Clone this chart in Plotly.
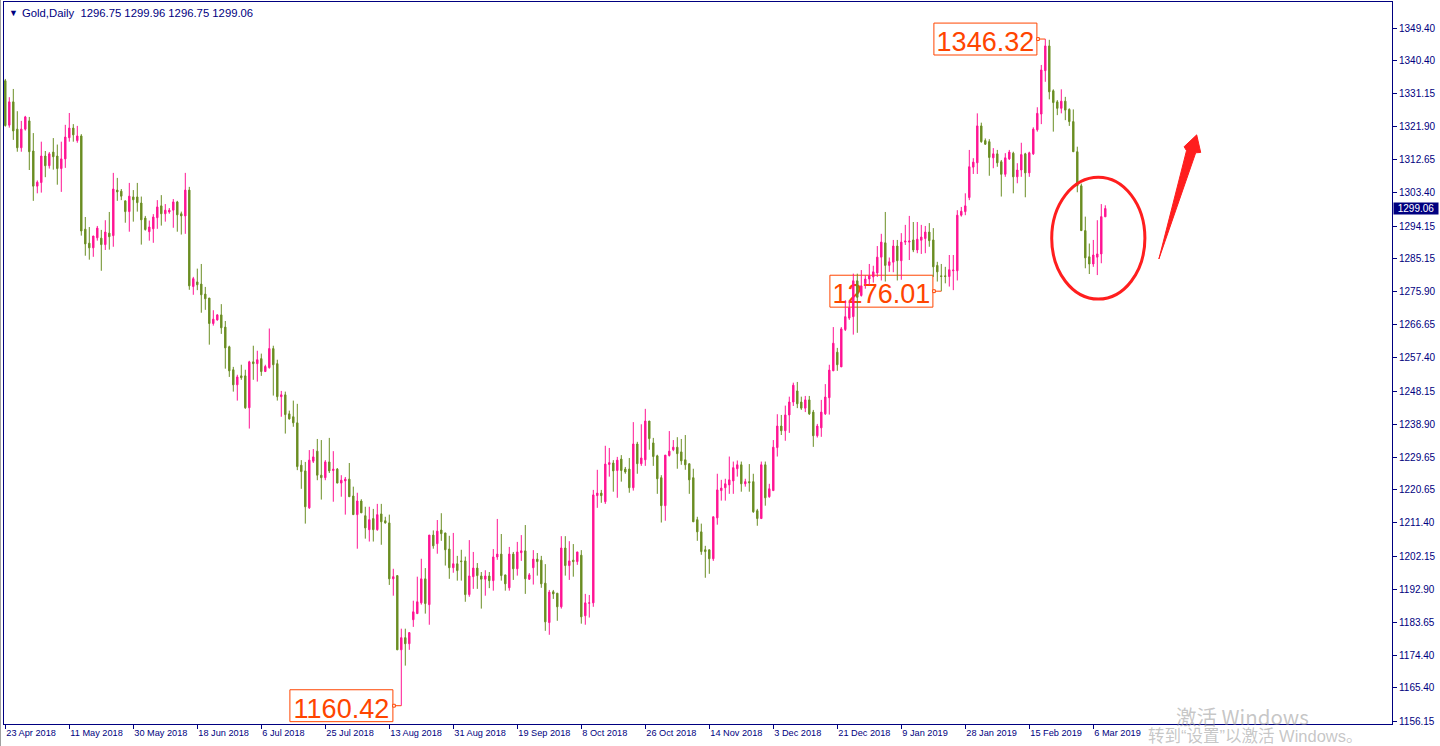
import plotly.graph_objects as go

# ---------------- data (Gold daily bars) ----------------
open_ = [
 1334.7,1322.3,1328.8,1321.2,1316.0,1321.2,1323.5,1315.1,1305.3,1306.3,
 1313.7,1311.0,1314.8,1313.7,1310.2,1312.9,1318.8,1321.5,1318.0,1319.3,
 1293.3,1289.4,1288.1,1290.9,1290.8,1289.0,1292.2,1291.5,1304.2,1303.9,
 1301.2,1298.2,1302.3,1302.3,1300.6,1296.4,1292.6,1293.4,1296.5,1299.8,
 1297.6,1298.1,1298.6,1300.9,1297.6,1297.0,1304.2,1277.3,1278.6,1278.0,
 1275.2,1274.1,1267.0,1268.0,1269.4,1266.0,1260.5,1254.1,1249.9,1252.4,
 1252.4,1243.5,1256.3,1255.8,1257.2,1253.6,1254.7,1260.0,1255.8,1246.6,
 1247.1,1241.8,1241.0,1239.3,1227.5,1225.9,1215.6,1228.6,1231.4,1224.7,
 1224.0,1228.4,1226.0,1226.4,1222.5,1223.1,1223.6,1218.9,1213.7,1217.5,
 1213.4,1209.5,1212.6,1209.5,1213.9,1212.0,1211.4,1195.8,1196.7,1176.0,
 1179.4,1177.7,1184.4,1186.1,1189.1,1195.8,1188.6,1208.0,1205.6,1209.4,
 1208.6,1204.1,1198.9,1200.0,1200.8,1200.8,1191.4,1196.4,1198.8,1196.6,
 1195.7,1196.6,1195.3,1201.9,1202.7,1196.9,1193.3,1202.7,1198.6,1203.1,
 1203.6,1195.7,1198.9,1201.3,1201.0,1194.6,1183.6,1192.2,1191.8,1188.0,
 1204.4,1199.5,1201.0,1200.6,1202.4,1185.5,1189.0,1189.1,1219.0,1219.7,
 1217.3,1227.7,1228.1,1226.0,1229.2,1226.4,1226.4,1221.2,1233.4,1227.9,
 1229.0,1239.8,1233.7,1230.1,1224.0,1216.2,1230.2,1231.8,1232.5,1231.2,
 1229.0,1227.9,1224.0,1212.3,1208.9,1203.9,1203.9,1201.4,1212.8,1220.4,
 1221.2,1222.0,1223.1,1226.5,1227.6,1222.3,1222.9,1222.9,1214.8,1212.6,
 1227.6,1218.7,1220.4,1232.4,1238.4,1237.1,1241.5,1245.1,1248.2,1245.1,
 1243.4,1245.7,1242.3,1235.7,1237.9,1241.8,1246.3,1253.8,1259.0,1254.9,
 1265.3,1268.5,1268.9,1278.9,1274.8,1278.1,1279.4,1280.0,1281.1,1285.5,
 1289.5,1283.2,1284.1,1288.6,1284.5,1289.7,1289.7,1290.3,1287.5,1290.2,
 1290.7,1292.5,1290.3,1283.2,1280.3,1280.3,1280.1,1281.7,1281.7,1297.2,
 1298.2,1302.1,1310.6,1311.8,1322.1,1318.0,1317.7,1313.2,1314.3,1312.1,
 1308.6,1312.9,1314.5,1307.9,1309.8,1314.3,1309.0,1314.3,1321.0,1325.4,
 1337.5,1344.4,1331.9,1328.8,1327.0,1329.0,1326.7,1323.3,1314.9,1305.4,
 1292.9,1285.6,1283.6,1285.5,1286.4,1296.75]
high = [
 1335.2,1330.1,1332.4,1326.2,1323.5,1324.9,1324.6,1320.1,1306.9,1317.7,
 1315.1,1314.8,1318.7,1316.9,1317.7,1322.4,1325.7,1322.6,1322.1,1319.8,
 1296.7,1293.9,1291.4,1294.2,1293.1,1295.8,1298.1,1309.0,1307.6,1304.5,
 1301.2,1306.2,1304.2,1306.2,1302.4,1297.0,1295.7,1297.5,1301.4,1302.8,
 1300.3,1299.2,1301.7,1301.2,1298.2,1309.0,1305.1,1280.0,1282.3,1283.6,
 1277.2,1274.1,1270.7,1269.6,1272.4,1267.7,1260.8,1254.9,1252.7,1255.5,
 1254.1,1256.6,1260.8,1259.4,1258.6,1255.5,1265.6,1260.8,1256.9,1248.2,
 1248.0,1242.7,1245.5,1244.6,1228.9,1228.4,1231.7,1232.0,1234.8,1234.5,
 1228.9,1235.1,1231.4,1226.7,1224.7,1224.2,1228.1,1221.5,1219.8,1218.0,
 1215.9,1215.9,1215.3,1216.7,1216.7,1213.1,1213.7,1198.6,1196.7,1181.9,
 1181.9,1180.8,1189.7,1196.4,1201.4,1198.8,1208.0,1209.3,1212.2,1214.1,
 1208.6,1207.8,1208.6,1202.2,1203.9,1202.0,1206.6,1203.3,1200.2,1197.7,
 1198.2,1197.7,1204.1,1212.5,1208.3,1196.9,1204.7,1203.3,1206.1,1208.0,
 1210.8,1197.4,1203.8,1203.0,1202.2,1199.9,1192.7,1192.7,1191.8,1207.7,
 1207.7,1206.3,1205.5,1203.3,1203.8,1191.6,1191.3,1220.6,1226.2,1220.6,
 1232.9,1232.3,1228.9,1229.8,1230.3,1227.0,1229.5,1239.5,1234.0,1238.9,
 1243.2,1239.8,1235.1,1230.4,1224.7,1230.3,1237.0,1234.5,1235.3,1234.8,
 1235.9,1227.9,1226.5,1213.1,1211.2,1205.0,1203.9,1213.1,1225.1,1223.4,
 1223.7,1229.9,1228.5,1228.8,1228.5,1223.7,1227.8,1225.1,1215.3,1228.5,
 1228.5,1222.3,1234.5,1241.7,1241.5,1244.1,1246.6,1250.5,1250.7,1246.6,
 1246.8,1246.8,1242.9,1239.0,1245.7,1250.1,1255.5,1266.0,1260.2,1266.0,
 1273.5,1273.5,1280.9,1280.9,1281.9,1280.5,1283.6,1283.1,1288.6,1292.0,
 1298.1,1285.4,1290.3,1290.3,1292.2,1294.5,1297.0,1295.3,1295.3,1294.5,
 1294.2,1295.0,1293.6,1284.2,1283.6,1282.8,1286.1,1286.1,1298.6,1299.5,
 1303.3,1315.4,1313.1,1325.6,1323.0,1318.6,1318.4,1315.9,1315.4,1312.6,
 1314.5,1315.4,1314.9,1311.7,1317.4,1314.6,1314.9,1321.7,1327.3,1339.1,
 1346.32,1346.1,1332.3,1329.3,1332.3,1330.2,1327.0,1326.7,1316.3,1306.0,
 1296.8,1289.3,1290.3,1295.8,1300.3,1299.96]
low = [
 1321.9,1321.6,1318.2,1314.9,1314.9,1320.8,1309.8,1301.2,1303.3,1303.5,
 1307.8,1310.2,1309.9,1305.7,1303.7,1310.4,1317.7,1317.7,1317.4,1291.5,
 1285.9,1284.8,1285.6,1290.1,1281.7,1287.5,1287.6,1288.4,1301.2,1301.4,
 1295.1,1292.6,1295.4,1298.2,1289.0,1292.9,1290.1,1289.5,1293.4,1294.3,
 1295.4,1297.6,1293.7,1292.6,1291.8,1292.0,1276.4,1275.0,1276.3,1270.0,
 1270.8,1261.1,1266.4,1267.8,1264.1,1254.4,1252.1,1248.0,1245.5,1251.3,
 1243.2,1237.7,1251.3,1250.8,1252.4,1253.6,1254.4,1246.9,1245.5,1241.0,
 1236.3,1240.2,1238.2,1226.1,1220.9,1211.2,1215.3,1228.1,1223.3,1217.9,
 1223.3,1225.3,1217.3,1222.5,1218.7,1213.7,1218.7,1213.7,1204.2,1214.2,
 1207.0,1206.2,1206.2,1209.2,1205.3,1211.2,1194.1,1191.1,1176.0,1160.42,
 1171.6,1176.0,1182.4,1186.1,1188.6,1186.1,1183.0,1204.2,1202.8,1206.4,
 1199.5,1195.8,1197.5,1195.3,1195.3,1189.4,1190.8,1193.0,1193.0,1187.5,
 1191.1,1193.2,1192.5,1201.1,1195.3,1192.5,1192.5,1195.5,1196.7,1200.8,
 1191.6,1195.5,1194.2,1196.7,1193.3,1181.3,1180.2,1190.2,1184.1,1187.5,
 1196.7,1195.5,1196.4,1199.7,1183.3,1183.0,1185.0,1188.0,1215.6,1217.0,
 1216.7,1224.3,1220.1,1218.4,1222.9,1225.1,1219.8,1220.4,1225.1,1227.3,
 1227.3,1231.8,1227.3,1219.5,1211.5,1212.0,1229.9,1231.4,1226.5,1227.6,
 1226.2,1219.5,1211.7,1206.4,1202.5,1196.1,1197.2,1200.8,1210.9,1217.6,
 1217.6,1219.5,1219.5,1224.3,1220.1,1221.5,1220.1,1214.2,1210.6,1212.6,
 1216.2,1218.4,1220.4,1229.9,1235.9,1234.3,1236.5,1244.0,1243.4,1242.9,
 1242.3,1241.5,1232.6,1235.2,1235.4,1241.5,1241.6,1253.8,1253.8,1254.9,
 1264.9,1268.0,1263.9,1264.4,1274.5,1276.7,1277.7,1278.4,1280.0,1279.0,
 1278.7,1281.4,1281.3,1279.0,1279.2,1288.9,1284.7,1286.9,1286.6,1286.4,
 1286.6,1288.4,1280.0,1278.7,1276.01,1278.2,1277.3,1276.3,1279.0,1296.8,
 1297.2,1301.4,1308.7,1308.7,1317.4,1316.8,1308.2,1310.3,1310.7,1302.4,
 1307.9,1312.6,1303.3,1306.1,1307.9,1302.2,1307.9,1314.0,1320.5,1322.6,
 1334.4,1329.5,1320.5,1325.1,1325.6,1323.7,1322.1,1314.9,1303.6,1292.9,
 1282.4,1280.8,1282.8,1280.5,1283.8,1296.75]
close = [
 1322.2,1328.8,1320.7,1316.0,1321.2,1324.6,1314.9,1305.3,1306.4,1313.7,
 1311.0,1314.3,1313.5,1310.2,1312.9,1319.0,1321.5,1319.6,1319.3,1292.8,
 1289.2,1288.1,1291.4,1293.6,1289.0,1292.5,1291.2,1304.5,1303.7,1302.5,
 1298.2,1302.5,1301.5,1300.7,1295.9,1293.2,1293.9,1296.7,1299.5,1297.6,
 1298.6,1298.6,1300.9,1297.3,1297.0,1304.2,1277.5,1279.5,1277.8,1275.0,
 1273.9,1267.0,1268.2,1269.4,1265.8,1260.2,1253.8,1249.9,1252.1,1251.9,
 1243.5,1256.3,1255.8,1256.9,1253.6,1255.0,1260.0,1255.5,1246.6,1247.1,
 1241.6,1240.4,1239.3,1227.1,1225.7,1215.9,1228.9,1229.8,1224.7,1224.0,
 1228.4,1225.9,1226.4,1222.5,1223.3,1223.6,1218.7,1213.7,1217.5,1214.2,
 1210.0,1212.3,1209.5,1213.7,1211.7,1211.4,1195.8,1196.4,1176.0,1179.4,
 1177.7,1180.8,1186.6,1189.4,1195.8,1188.9,1208.0,1205.0,1209.1,1208.4,
 1203.9,1198.9,1200.0,1198.1,1200.6,1191.4,1196.6,1198.8,1196.7,1195.7,
 1196.6,1195.3,1201.9,1202.7,1196.7,1194.4,1202.7,1198.6,1203.3,1203.6,
 1195.8,1196.9,1201.3,1200.6,1194.4,1183.8,1192.1,1191.6,1188.0,1204.4,
 1199.5,1200.8,1200.6,1203.3,1185.2,1189.1,1189.1,1219.2,1219.7,1219.0,
 1227.8,1228.2,1225.9,1228.9,1226.0,1225.6,1221.2,1233.4,1227.9,1229.5,
 1239.8,1234.9,1229.9,1223.7,1216.2,1230.3,1231.4,1232.5,1230.7,1228.7,
 1227.6,1223.4,1211.7,1208.9,1203.4,1203.4,1201.4,1213.1,1220.6,1221.1,
 1222.3,1223.4,1226.8,1227.6,1222.3,1222.9,1222.6,1214.5,1212.6,1227.6,
 1218.4,1220.9,1232.5,1238.4,1237.1,1241.5,1245.1,1249.8,1244.6,1243.4,
 1245.7,1241.8,1235.7,1238.4,1242.3,1246.5,1254.0,1261.5,1255.5,1265.5,
 1268.9,1271.4,1278.9,1274.3,1277.5,1279.4,1280.3,1281.4,1285.5,1289.7,
 1283.2,1284.2,1288.6,1284.5,1289.7,1290.0,1290.0,1287.5,1290.5,1291.1,
 1292.5,1290.1,1282.8,1281.4,1280.1,1280.1,1282.0,1281.9,1297.2,1298.3,
 1299.8,1310.7,1312.0,1322.1,1317.7,1317.0,1313.3,1314.3,1311.8,1308.6,
 1313.2,1314.8,1307.9,1309.8,1314.1,1309.0,1314.6,1321.2,1325.6,1337.7,
 1344.4,1331.6,1328.6,1327.0,1329.0,1326.5,1323.3,1314.9,1305.4,1292.9,
 1285.3,1283.6,1286.1,1286.4,1296.8,1299.06]

bar_index = list(range(len(close)))

x_tick_labels = ["23 Apr 2018", "11 May 2018", "30 May 2018", "18 Jun 2018",
                 "6 Jul 2018", "25 Jul 2018", "13 Aug 2018", "31 Aug 2018",
                 "19 Sep 2018", "8 Oct 2018", "26 Oct 2018", "14 Nov 2018",
                 "3 Dec 2018", "21 Dec 2018", "9 Jan 2019", "28 Jan 2019",
                 "15 Feb 2019", "6 Mar 2019"]
bars_per_label = 16

y_tick_values = [1349.40, 1340.40, 1331.15, 1321.90, 1312.65, 1303.40, 1294.15,
                 1285.15, 1275.90, 1266.65, 1257.40, 1248.15, 1238.90, 1229.65,
                 1220.65, 1211.40, 1202.15, 1192.90, 1183.65, 1174.40, 1165.40,
                 1156.15]

symbol_name = "Gold,Daily"

# ---------------- style ----------------
PINK = "#FF1493"
GREEN = "#6B8E23"
NAVY = "#000080"
LABEL = "#FF4500"
RED = "#FF1E1E"
FONT = "Liberation Sans"

W, H = 1440, 746
ML, MR, MT, MB = 4, 48, 2, 22
plot_w = W - ML - MR
plot_h = H - MT - MB

fig = go.Figure()
fig.add_trace(go.Candlestick(
    x=bar_index, open=open_, high=high, low=low, close=close,
    increasing=dict(line=dict(color=PINK, width=1), fillcolor=PINK),
    decreasing=dict(line=dict(color=GREEN, width=1), fillcolor=GREEN),
    whiskerwidth=0, hoverinfo="skip", showlegend=False,
))

# ---------------- price labels (MT4 style) ----------------
def price_label(i, price):
    x1 = i - 2.1
    x0 = x1 - 25.75
    hh = 4.45
    fig.add_shape(type="rect", xref="x", yref="y", x0=x0, x1=x1,
                  y0=price - hh, y1=price + hh, layer="below",
                  line=dict(color=LABEL, width=1), fillcolor="rgba(0,0,0,0)",
                  label=dict(text=f"{price:.2f}",
                             font=dict(family=FONT, size=27, color=LABEL)))
    fig.add_shape(type="line", xref="x", yref="y", x0=x1, x1=i, y0=price, y1=price,
                  line=dict(color=LABEL, width=1))
    fig.add_shape(type="rect", xref="x", yref="y", x0=x1 - 0.05, x1=x1 + 0.6,
                  y0=price - 0.4, y1=price + 0.4,
                  line=dict(color=LABEL, width=1), fillcolor="white")

i_hi = high.index(max(high))
i_lo = low.index(min(low))
i_mid = low.index(1276.01)
price_label(i_hi, high[i_hi])
price_label(i_lo, low[i_lo])
price_label(i_mid, low[i_mid])

# ---------------- hand-drawn circle and arrow ----------------
fig.add_shape(type="circle", xref="x", yref="y", x0=261.6, x1=284.9,
              y0=1273.8, y1=1307.8, line=dict(color=RED, width=3))
arrow_pts = [(288.4, 1285.0), (295.3, 1315.2), (294.7, 1316.3), (297.85, 1319.6),
             (298.85, 1314.7), (297.6, 1314.6)]
path = "M " + " L ".join(f"{x},{y}" for x, y in arrow_pts) + " Z"
fig.add_shape(type="path", xref="x", yref="y", path=path,
              fillcolor=RED, line=dict(color=RED, width=1))

# ---------------- header & current price tag ----------------
def px_x(px):
    return (px - ML) / plot_w

def px_y(py):
    return (H - MB - py) / plot_h

header = (f"{symbol_name}  {open_[-1]:.2f} {high[-1]:.2f} "
          f"{low[-1]:.2f} {close[-1]:.2f}")
fig.add_annotation(xref="paper", yref="paper", x=px_x(7), y=px_y(13),
                   text="▼", showarrow=False, xanchor="left", yanchor="middle",
                   font=dict(family=FONT, size=9, color=NAVY))
fig.add_annotation(xref="paper", yref="paper", x=px_x(20), y=px_y(13),
                   text=header, showarrow=False, xanchor="left", yanchor="middle",
                   font=dict(family=FONT, size=11.3, color=NAVY))
fig.add_annotation(xref="paper", yref="y", x=px_x(1393), y=close[-1],
                   text=f"{close[-1]:.2f}", showarrow=False, xanchor="left",
                   yanchor="middle", bgcolor=NAVY, borderpad=0, width=44, height=11,
                   font=dict(family=FONT, size=10, color="white"))

# ---------------- Windows watermark ----------------
WM_FONT = "Liberation Sans, Noto Sans CJK SC"
fig.add_annotation(xref="paper", yref="paper", x=px_x(1174), y=px_y(716),
                   text="激活 Windows", showarrow=False, xanchor="left",
                   yanchor="middle",
                   font=dict(family="Noto Sans CJK SC", size=20.5,
                             color="rgba(150,150,150,0.55)"))
fig.add_annotation(xref="paper", yref="paper", x=px_x(1146), y=px_y(736),
                   text="转到“设置”以激活 Windows。", showarrow=False,
                   xanchor="left", yanchor="middle",
                   font=dict(family=WM_FONT, size=16.5,
                             color="rgba(150,150,150,0.55)"))

# left window edge
fig.add_shape(type="line", xref="paper", yref="paper", x0=px_x(0.5), x1=px_x(0.5),
              y0=px_y(0), y1=px_y(H), line=dict(color="#A0A0A0", width=1))

# ---------------- axes ----------------
first_px = 5.3
spacing = 4.0
x_range = [(ML - first_px) / spacing, (W - MR - first_px) / spacing]
y_range = [1155.32, 1356.65]

fig.update_layout(
    width=W, height=H, margin=dict(l=ML, r=MR, t=MT, b=MB, autoexpand=False),
    paper_bgcolor="white", plot_bgcolor="white",
    boxgap=0.5, showlegend=False, hovermode=False,
    xaxis=dict(range=x_range, rangeslider=dict(visible=False),
               tickmode="array",
               tickvals=[k * bars_per_label for k in range(len(x_tick_labels))],
               ticktext=x_tick_labels, ticks="outside", ticklen=4, tickcolor=NAVY,
               ticklabelposition="outside right", tickangle=0, automargin=False,
               tickfont=dict(family=FONT, size=9.2, color=NAVY),
               showline=True, linecolor=NAVY, linewidth=1, mirror=True,
               showgrid=False, zeroline=False, fixedrange=True),
    yaxis=dict(range=y_range, side="right", tickmode="array",
               tickvals=y_tick_values, ticktext=[f"{v:.2f}" for v in y_tick_values],
               ticks="outside", ticklen=4, tickcolor=NAVY, automargin=False,
               tickfont=dict(family=FONT, size=10, color=NAVY),
               showline=True, linecolor=NAVY, linewidth=1, mirror=True,
               showgrid=False, zeroline=False, fixedrange=True),
)

fig.write_html("out.html",
               config={"displayModeBar": False, "staticPlot": True},
               post_script="document.body.style.margin='0';"
                           "document.body.style.padding='0';"
                           "document.body.style.overflow='hidden';")
